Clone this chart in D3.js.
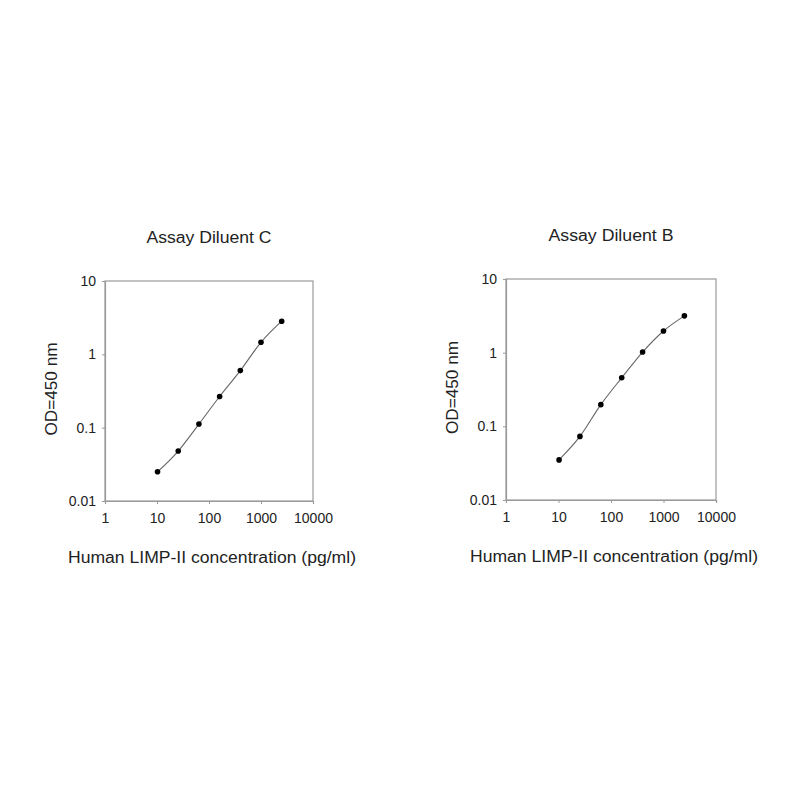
<!DOCTYPE html>
<html>
<head>
<meta charset="utf-8">
<script src="https://cdn.jsdelivr.net/npm/d3@7"></script>
<style>
  body { margin: 0; background: #fff; }
  text { font-family: "Liberation Sans", Arial, sans-serif; fill: #222; }
</style>
</head>
<body>
<div id="chart"></div>
<script>
// Data
const concentration = [10.24, 25.6, 64, 160, 400, 1000, 2500];
const odDiluentC = [0.025, 0.048, 0.112, 0.266, 0.60, 1.46, 2.83];
const odDiluentB = [0.035, 0.073, 0.197, 0.456, 1.02, 1.97, 3.16];
const xTicks = [1, 10, 100, 1000, 10000];
const yTicks = [0.01, 0.1, 1, 10];
const panelTitles = ["Assay Diluent C", "Assay Diluent B"];
const xTitle = "Human LIMP-II concentration (pg/ml)";
const yTitle = "OD=450 nm";

const svg = d3.select("#chart")
  .append("svg")
  .attr("width", 800)
  .attr("height", 800);

// Panel frames (pixel boxes)
const panels = [
  { left: 105, top: 281, width: 208, height: 220, values: odDiluentC, title: panelTitles[0] },
  { left: 506, top: 279, width: 210, height: 221, values: odDiluentB, title: panelTitles[1] }
];

panels.forEach(p => {
  const g = svg.append("g")
    .attr("transform", `translate(${p.left}, ${p.top})`);

  const x = d3.scaleLog().domain([1, 10000]).range([0, p.width]);
  const y = d3.scaleLog().domain([0.01, 10]).range([p.height, 0]);

  // Box around plot
  g.append("rect")
    .attr("width", p.width)
    .attr("height", p.height)
    .attr("fill", "none")
    .attr("stroke", "#9a9a9a")
    .attr("stroke-width", 1.2);

  // Axes
  const xAxis = g.append("g")
    .attr("transform", `translate(0, ${p.height})`)
    .call(d3.axisBottom(x).tickValues(xTicks).tickFormat(d3.format("d")).tickSize(3).tickPadding(9));
  const yAxis = g.append("g")
    .call(d3.axisLeft(y).tickValues(yTicks).tickFormat(d => d >= 1 ? d3.format("d")(d) : d3.format(".2~f")(d)).tickSize(3).tickPadding(6));

  [xAxis, yAxis].forEach(a => {
    a.select(".domain").attr("stroke", "#9a9a9a").attr("stroke-width", 1.2);
    a.selectAll(".tick line").attr("stroke", "#9a9a9a");
    a.selectAll(".tick text")
      .style("font-family", "Liberation Sans, Arial, sans-serif")
      .style("font-size", "14px")
      .attr("fill", "#222");
  });

  // Curve through points
  const pts = concentration.map((c, i) => ({ c: c, v: p.values[i] }));
  const line = d3.line()
    .x(d => x(d.c))
    .y(d => y(d.v))
    .curve(d3.curveMonotoneX);

  g.append("path")
    .datum(pts)
    .attr("d", line)
    .attr("fill", "none")
    .attr("stroke", "#666")
    .attr("stroke-width", 1.1);

  g.selectAll("circle")
    .data(pts)
    .enter()
    .append("circle")
    .attr("cx", d => x(d.c))
    .attr("cy", d => y(d.v))
    .attr("r", 2.8)
    .attr("fill", "#000");

  // Panel title
  g.append("text")
    .attr("x", p.width / 2)
    .attr("y", -38)
    .attr("text-anchor", "middle")
    .attr("textLength", 125)
    .attr("lengthAdjust", "spacingAndGlyphs")
    .style("font-size", "16px")
    .text(p.title);

  // X axis title
  g.append("text")
    .attr("x", p.width / 2 + 3)
    .attr("y", p.height + 62)
    .attr("text-anchor", "middle")
    .attr("textLength", 288)
    .attr("lengthAdjust", "spacingAndGlyphs")
    .style("font-size", "16px")
    .text(xTitle);

  // Y axis title
  g.append("text")
    .attr("transform", "rotate(-90)")
    .attr("x", -p.height / 2 + 2)
    .attr("y", -48)
    .attr("text-anchor", "middle")
    .attr("textLength", 93)
    .attr("lengthAdjust", "spacingAndGlyphs")
    .style("font-size", "16px")
    .text(yTitle);
});
</script>
</body>
</html>
